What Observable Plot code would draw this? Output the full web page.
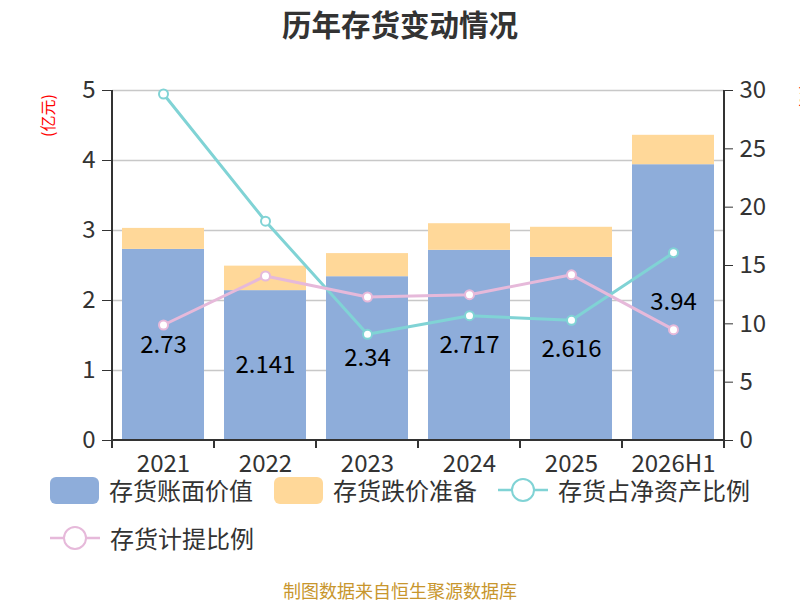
<!DOCTYPE html>
<html>
<head>
<meta charset="utf-8">
<script src="https://cdn.jsdelivr.net/npm/d3@7"></script>
<script src="https://cdn.jsdelivr.net/npm/@observablehq/plot@0.6"></script>
<style>
  html, body { margin: 0; padding: 0; background: #fff; }
  body { width: 800px; height: 600px; position: relative; overflow: hidden;
         font-family: "Noto Sans CJK SC", "Noto Sans", sans-serif; }
  #title { position: absolute; left: 0; top: 0; width: 800px; height: 46px; line-height: 46px;
           text-align: center; font-size: 29.5px; font-weight: bold; color: #333; }
  #chart { position: absolute; left: 0; top: 45px; }
  #legend { position: absolute; left: 50px; top: 476px; width: 740px; display: flex; flex-wrap: wrap;
            column-gap: 21px; row-gap: 20px; }
  .item { display: flex; align-items: center; height: 28px; }
  .sw { width: 49px; height: 27px; border-radius: 6px; }
  .lbl { margin-left: 10px; font-size: 24px; color: #333; line-height: 28px; white-space: nowrap; }
  #caption { position: absolute; left: 0; top: 578px; width: 800px; text-align: center;
             font-size: 18px; line-height: 24px; color: #C8962D; }
</style>
</head>
<body>
<div id="title">历年存货变动情况</div>
<div id="chart"></div>
<div id="legend"></div>
<div id="caption">制图数据来自恒生聚源数据库</div>
<script>
// ---- data ----
const years = ["2021", "2022", "2023", "2024", "2025", "2026H1"];
const bookValue = [2.73, 2.141, 2.34, 2.717, 2.616, 3.94];          // 存货账面价值 (亿元)
const reserve = [0.30, 0.35, 0.33, 0.38, 0.43, 0.42];               // 存货跌价准备 (亿元)
const netAssetRatio = [29.7, 18.8, 9.1, 10.7, 10.3, 16.1];          // 存货占净资产比例 (%)
const provisionRatio = [9.9, 14.1, 12.3, 12.5, 14.2, 9.5];          // 存货计提比例 (%)
const leftTicks = [0, 1, 2, 3, 4, 5];
const rightTicks = [0, 5, 10, 15, 20, 25, 30];
const seriesNames = ["存货账面价值", "存货跌价准备", "存货占净资产比例", "存货计提比例"];
const seriesColors = ["#8EADDA", "#FFD899", "#80D3D5", "#E6B9DA"];

const leftMax = leftTicks[leftTicks.length - 1];
const rightMax = rightTicks[rightTicks.length - 1];
const k = rightMax / leftMax;

const stacked = [];
years.forEach((y, i) => {
  stacked.push({year: y, series: seriesNames[0], value: bookValue[i]});
  stacked.push({year: y, series: seriesNames[1], value: reserve[i]});
});
const bookRows = years.map((y, i) => ({year: y, value: bookValue[i]}));
const netRows = years.map((y, i) => ({year: y, v: netAssetRatio[i] / k}));
const provRows = years.map((y, i) => ({year: y, v: provisionRatio[i] / k}));

const chart = Plot.plot({
  width: 800,
  height: 430,
  marginLeft: 112,
  marginRight: 76,
  marginTop: 45,
  marginBottom: 35,
  style: {fontFamily: "'Noto Sans CJK SC', 'Noto Sans', sans-serif", background: "white", overflow: "visible"},
  x: {domain: years, paddingInner: 0.2, paddingOuter: 0.1, label: null},
  y: {domain: [0, leftMax], label: null},
  color: {domain: seriesNames, range: seriesColors},
  marks: [
    Plot.ruleY(leftTicks.slice(1), {stroke: "#c8c8c8", strokeWidth: 1.6}),
    Plot.barY(stacked, Plot.stackY({x: "year", y: "value", fill: "series"})),
    Plot.line(netRows, {x: "year", y: "v", stroke: seriesColors[2], strokeWidth: 3}),
    Plot.line(provRows, {x: "year", y: "v", stroke: seriesColors[3], strokeWidth: 3}),
    Plot.dot(netRows, {x: "year", y: "v", r: 4.5, fill: "white", stroke: seriesColors[2], strokeWidth: 2}),
    Plot.dot(provRows, {x: "year", y: "v", r: 4.5, fill: "white", stroke: seriesColors[3], strokeWidth: 2}),
    Plot.text(bookRows, {x: "year", y: d => d.value / 2, text: d => String(d.value), fontSize: 24, fill: "#000"}),
    Plot.axisX({tickSize: 0, tickPadding: 14, fontSize: 24, color: "#333", label: null}),
    Plot.axisY({anchor: "left", ticks: leftTicks, tickFormat: d3.format("d"), tickSize: 10, tickPadding: 7,
                fontSize: 24, color: "#333", label: null}),
    Plot.axisY({anchor: "right", ticks: rightTicks.map(d => d / k), tickFormat: d => Math.round(d * k),
                tickSize: 8, tickPadding: 7, fontSize: 24, color: "#333", label: null}),
    Plot.text(["(亿元)"], {frameAnchor: "top-left", textAnchor: "middle", lineAnchor: "middle",
                          dx: -64, dy: 25, rotate: -90, fontSize: 16, fill: "red"}),
    Plot.text(["(%)"], {frameAnchor: "top-right", textAnchor: "middle", lineAnchor: "middle",
                        dx: 82, dy: 6, rotate: -90, fontSize: 16, fill: "red"})
  ]
});

// axis lines and band-boundary ticks drawn from the Plot scales
const xs = chart.scale("x");
const ys = chart.scale("y");
const [x0, x1] = xs.range;
const [yb, yt] = ys.range;
const g = d3.select(chart).append("g").attr("stroke", "#333").attr("stroke-width", 2);
g.append("line").attr("x1", x0).attr("x2", x0).attr("y1", yb).attr("y2", yt);
g.append("line").attr("x1", x1).attr("x2", x1).attr("y1", yb).attr("y2", yt);
g.append("line").attr("x1", x0).attr("x2", x1).attr("y1", yb).attr("y2", yb);
d3.range(years.length + 1).forEach(i => {
  const x = x0 + i * xs.step;
  g.append("line").attr("x1", x).attr("x2", x).attr("y1", yb).attr("y2", yb + 8);
});

document.getElementById("chart").appendChild(chart);

// legend
const legend = document.getElementById("legend");
seriesNames.forEach((name, i) => {
  const item = document.createElement("div");
  item.className = "item";
  if (i < 2) {
    item.innerHTML = `<div class="sw" style="background:${seriesColors[i]}"></div><span class="lbl">${name}</span>`;
  } else {
    item.innerHTML = `<svg width="50" height="28"><line x1="0" x2="50" y1="14" y2="14" stroke="${seriesColors[i]}" stroke-width="2.5"/>` +
      `<circle cx="25" cy="14" r="11" fill="white" stroke="${seriesColors[i]}" stroke-width="2"/></svg><span class="lbl">${name}</span>`;
  }
  legend.appendChild(item);
});
</script>
</body>
</html>
